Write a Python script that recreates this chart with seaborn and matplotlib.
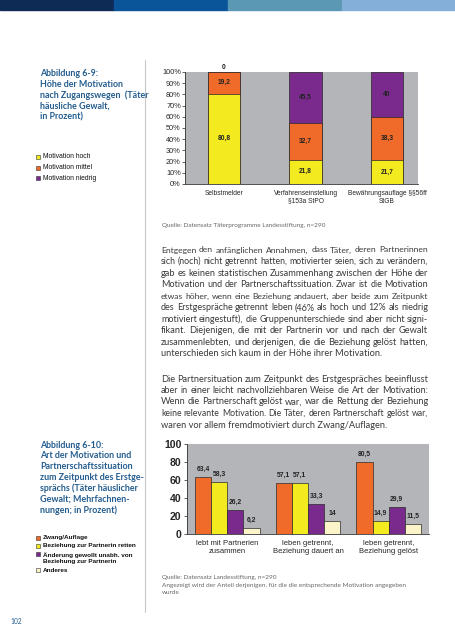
import numpy as np
import pandas as pd
import matplotlib
matplotlib.use('Agg')
import matplotlib.pyplot as plt
from matplotlib.patches import Rectangle
from matplotlib.ticker import FuncFormatter
import seaborn as sns

# chart 6-9: motivation by access route (stacked, percent)
zugang = ['Selbstmelder', 'Verfahrenseinstellung\n§153a StPO', 'Bewährungsauflage §§56ff\nStGB']
mot_hoch = [80.8, 21.8, 21.7]
mot_mittel = [19.2, 32.7, 38.3]
mot_niedrig = [0, 45.5, 40]
levels1 = ['Motivation hoch', 'Motivation mittel', 'Motivation niedrig']
cols1 = ['#f3ea1f', '#f06a2a', '#7a2a8c']

# chart 6-10: kind of motivation by partner situation
situation = ['lebt mit Partnerien\nzusammen', 'leben getrennt,\nBeziehung dauert an', 'leben getrennt,\nBeziehung gelöst']
motiv = ['Zwang/Auflage', 'Beziehung zur Partnerin retten',
         'Änderung gewollt unabh. von\nBeziehung zur Partnerin', 'Anderes']
zwang = [63.4, 57.1, 80.5]
retten = [58.3, 57.1, 14.9]
aenderung = [26.2, 33.3, 29.9]
anderes = [6.2, 14, 11.5]
cols2 = ['#f06a2a', '#f3ea1f', '#7a2a8c', '#fbf4c8']

title1 = ['Abbildung 6-9:', 'Höhe der Motivation', 'nach Zugangswegen  (Täter', 'häusliche Gewalt,', 'in Prozent)']
title2 = ['Abbildung 6-10:', 'Art der Motivation und', 'Partnerschaftssituation', 'zum Zeitpunkt des Erstge-',
          'sprächs (Täter häuslicher', 'Gewalt; Mehrfachnen-', 'nungen; in Prozent)']
src1 = ['Quelle: Datensatz Täterprogramme Landesstiftung, n=290']
src2 = ['Quelle: Datensatz Landesstiftung, n=290',
        'Angezeigt wird der Anteil derjenigen, für die die entsprechende Motivation angegeben',
        'wurde']
para1 = ['Entgegen den anfänglichen Annahmen, dass Täter, deren Partnerinnen',
         'sich (noch) nicht getrennt hatten, motivierter seien, sich zu verändern,',
         'gab es keinen statistischen Zusammenhang zwischen der Höhe der',
         'Motivation und der Partnerschaftssituation. Zwar ist die Motivation',
         'etwas höher, wenn eine Beziehung andauert, aber beide zum Zeitpunkt',
         'des Erstgespräche getrennt leben (46% als hoch und 12% als niedrig',
         'motiviert eingestuft), die Gruppenunterschiede sind aber nicht signi-',
         'fikant. Diejenigen, die mit der Partnerin vor und nach der Gewalt',
         'zusammenlebten, und derjenigen, die die Beziehung gelöst hatten,',
         'unterschieden sich kaum in der Höhe ihrer Motivation.']
para2 = ['Die Partnersituation zum Zeitpunkt des Erstgespräches beeinflusst',
         'aber in einer leicht nachvollziehbaren Weise die Art der Motivation:',
         'Wenn die Partnerschaft gelöst war, war die Rettung der Beziehung',
         'keine relevante Motivation. Die Täter, deren Partnerschaft gelöst war,',
         'waren vor allem fremdmotiviert durch Zwang/Auflagen.']

W, H = 456, 640
sns.set_style('white')
plt.rcParams['font.family'] = ['Liberation Sans', 'DejaVu Sans']

fig = plt.figure(figsize=(W / 100, H / 100), dpi=100)
BLUE = '#245d8f'
GRAY_BG = '#b3b5b8'
HUM = ['Lato', 'DejaVu Sans']

def fx(x):  # px -> fig
    return x / W

def fy(y):
    return 1 - y / H

# top band
for i, c in enumerate(['#0d2b55', '#0a559a', '#5a98b4', '#84afd8']):
    fig.patches.append(Rectangle((fx(i * 114), fy(10)), fx(114), 10 / H, color=c,
                                 transform=fig.transFigure, figure=fig))
# vertical rule
fig.add_artist(plt.Line2D([fx(145), fx(145)], [fy(60), fy(612)], color='#c8c8c8', lw=0.8))

def lines_at(lines, x, y0, step, **kw):
    for i, s in enumerate(lines):
        fig.text(fx(x), fy(y0 + i * step), s, va='center', ha='left', **kw)

lines_at(title1, 40, 74, 10.7, color=BLUE, fontsize=6.4, fontweight='bold', family=HUM)
lines_at(title2, 40, 445, 10.8, color=BLUE, fontsize=6.4, fontweight='bold', family=HUM)
lines_at(src1, 162, 226, 8, color='#666666', fontsize=4.6, family=HUM)
lines_at(src2, 162, 577, 8, color='#666666', fontsize=4.6, family=HUM)
fig.text(fx(10), fy(621), '102', color=BLUE, fontsize=4.8, va='center', family=HUM)

def justify(lines, x0, x1, y0, step, size):  # block text
    r = fig.canvas.get_renderer()
    for i, line in enumerate(lines):
        y = fy(y0 + i * step)
        kw = dict(va='center', ha='left', fontsize=size, color='#3a3a3a', family=HUM)
        if i == len(lines) - 1:
            fig.text(fx(x0), y, line, **kw)
            continue
        words = line.split(' ')
        ts = [fig.text(0, y, w, **kw) for w in words]
        fs = size
        while True:
            ws = [t.get_window_extent(r).width for t in ts]
            gap = (x1 - x0 - sum(ws)) / (len(words) - 1)
            if gap >= 2.0 or fs < 5:
                break
            fs -= 0.1  # shrink a tight line
            for t in ts:
                t.set_fontsize(fs)
        x = x0
        for t, w in zip(ts, ws):
            t.set_x(fx(x))
            x += w + gap

justify(para1, 161, 428, 250, 11.55, 6.7)
justify(para2, 161, 428, 379, 11.5, 6.7)

# ---- chart 6-9
ax1 = fig.add_axes([fx(185), fy(184), fx(233), 112 / H])
ax1.set_facecolor(GRAY_BG)
vals1 = [mot_hoch, mot_mittel, mot_niedrig]
cum = np.cumsum(vals1, axis=0)
for k in [2, 1, 0]:  # draw tallest first
    sns.barplot(x=zugang, y=cum[k], color=cols1[k], saturation=1, width=0.4,
                edgecolor='#2a2a2a', linewidth=0.5, ax=ax1)
for k in range(3):
    for j in range(3):
        v = vals1[k][j]
        yy = cum[k][j] - v / 2
        ax1.text(j, yy + (0.8 if v == 0 else 0), f'{v:g}'.replace('.', ','), ha='center',
                 va='bottom' if v == 0 else 'center', fontsize=4.8, fontweight='bold', color='#222222')
ax1.set_ylim(0, 100)
ax1.set_xlim(-0.48, 2.38)
ax1.set_yticks(np.arange(0, 101, 10))
ax1.yaxis.set_major_formatter(FuncFormatter(lambda v, p: f'{v:.0f}%'))
ax1.tick_params(axis='y', labelsize=5.3, length=2, width=0.5, pad=1, left=True)
ax1.tick_params(axis='x', labelsize=4.8, length=0, pad=4)
ax1.set_xticks([0.5, 1.5], minor=True)
ax1.tick_params(axis='x', which='minor', length=2.5, width=0.5)
for s in ['top', 'right']:
    ax1.spines[s].set_visible(False)
for s in ['left', 'bottom']:
    ax1.spines[s].set_linewidth(0.6)
    ax1.spines[s].set_color('#333333')
ax1.set_xlabel('')
ax1.set_ylabel('')

# legend 6-9
for i, (lab, c) in enumerate(zip(levels1, cols1)):
    y = 157 + i * 10.5
    fig.patches.append(Rectangle((fx(36), fy(y + 2)), fx(4), 4 / H, facecolor=c, edgecolor='#333333',
                                 lw=0.4, transform=fig.transFigure, figure=fig))
    fig.text(fx(43), fy(y), lab, fontsize=4.9, va='center', color='#111111')

# ---- chart 6-10
ax2 = fig.add_axes([fx(187), fy(534), fx(242), 90 / H])
ax2.set_facecolor(GRAY_BG)
df2 = pd.DataFrame({
    'situation': np.repeat(situation, 4),
    'motiv': motiv * 3,
    'pct': np.array([zwang, retten, aenderung, anderes]).T.ravel(),
})
sns.barplot(data=df2, x='situation', y='pct', hue='motiv', hue_order=motiv, palette=cols2,
            saturation=1, width=0.8, edgecolor='#2a2a2a', linewidth=0.5, legend=False, ax=ax2)
for c in ax2.containers:
    ax2.bar_label(c, labels=[f'{b.get_height():g}'.replace('.', ',') for b in c], padding=3,
                  fontsize=4.9, fontweight='bold', color='#222222')
ax2.set_ylim(0, 100)
ax2.set_xlim(-0.5, 2.5)
ax2.set_yticks(np.arange(0, 101, 20))
ax2.tick_params(axis='y', labelsize=7.6, length=2, width=0.5, pad=2, left=True)
for t in ax2.get_yticklabels():
    t.set_fontweight('bold')
ax2.tick_params(axis='x', labelsize=5.5, length=0, pad=4)
ax2.set_xticks([0.5, 1.5], minor=True)
ax2.tick_params(axis='x', which='minor', length=2.5, width=0.5)
for s in ['top', 'right']:
    ax2.spines[s].set_visible(False)
for s in ['left', 'bottom']:
    ax2.spines[s].set_linewidth(0.6)
    ax2.spines[s].set_color('#333333')
ax2.set_xlabel('')
ax2.set_ylabel('')

# legend 6-10
leg_y = [538, 546, 554, 570]
for lab, c, y in zip(motiv, cols2, leg_y):
    fig.patches.append(Rectangle((fx(36), fy(y + 2)), fx(4), 4 / H, facecolor=c, edgecolor='#333333',
                                 lw=0.4, transform=fig.transFigure, figure=fig))
    ty = y + 4 * lab.count('\n')  # centre of the two-line entry
    fig.text(fx(43), fy(ty), lab, fontsize=4.6, fontweight='bold', va='center',
             color='#111111', linespacing=1.25)

fig.savefig('out.png', dpi=100)
plt.close()
